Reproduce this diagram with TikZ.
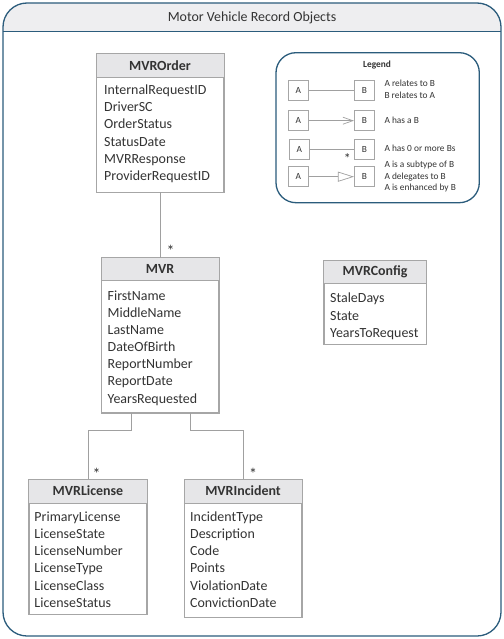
\documentclass[tikz,border=0pt]{standalone}
\usepackage{fontspec}
\setmainfont{Carlito}
\usetikzlibrary{arrows.meta,calc}
\definecolor{boxgray}{HTML}{A6A6A6}
\definecolor{hdrgray}{HTML}{E6E6E8}
\definecolor{txt}{HTML}{333333}
\definecolor{framec}{HTML}{2B5C7C}
\definecolor{framehdr}{HTML}{EEEEF0}
\definecolor{linegray}{HTML}{A0A0A0}
\tikzset{
  cls/.style={draw=boxgray, line width=0.8bp, inner sep=0pt, fill=white},
  attr/.style={anchor=base west, inner sep=0pt, font=\fontsize{14}{17}\selectfont, text=txt},
  ttl/.style={inner sep=0pt, font=\fontsize{14}{17}\selectfont\bfseries, text=txt},
  conn/.style={draw=linegray, line width=0.8bp},
  starmark/.style={anchor=base, inner sep=0pt, font=\fontsize{16}{18}\selectfont, text=txt},
  lbox/.style={draw=boxgray, line width=0.7bp, minimum width=20bp, minimum height=20bp, inner sep=0pt, font=\fontsize{9.4}{11}\selectfont, text=txt},
  ltxt/.style={anchor=base west, inner sep=0pt, font=\fontsize{9.4}{11}\selectfont, text=txt},
  frame/.style={draw=framec, line width=1.3bp},
}
\begin{document}
\begin{tikzpicture}[x=1bp,y=-1bp]
\useasboundingbox (0,0) rectangle (504,639);
% outer frame
\fill[white, rounded corners=24bp] (3,3) rectangle (501,636);
\fill[framehdr] (3,31.5) {[rounded corners=24bp] -- (3,3) -- (501,3)} -- (501,31.5) -- cycle;
\draw[frame] (3,31.5) -- (501,31.5);
\draw[frame, rounded corners=24bp] (3,3) rectangle (501,636);
\node[inner sep=0pt, font=\fontsize{14}{17}\selectfont, text=txt] (title) at (252,17.5) {Motor Vehicle Record Objects};

% ---- classes ----
% MVROrder
\node[cls, minimum width=127bp, minimum height=138bp] (order) at (160,123) {};
\fill[hdrgray] (order.north west) rectangle ([yshift=-23.7bp]order.north east);
\draw[boxgray, line width=0.8bp] ([yshift=-23.7bp]order.north west) -- ([yshift=-23.7bp]order.north east);
\draw[boxgray, line width=0.8bp] (order.north west) rectangle (order.south east);
\node[ttl] at ([yshift=-11.85bp]order.north) {MVROrder};
\foreach \t [count=\i from 0] in {InternalRequestID,DriverSC,OrderStatus,StatusDate,MVRResponse,ProviderRequestID}
  \node[attr] at (104,94.5+17.2*\i) {\t};

% MVR
\node[cls, minimum width=117bp, minimum height=154.7bp] (mvr) at (160,335.35) {};
\fill[hdrgray] (mvr.north west) rectangle ([yshift=-23bp]mvr.north east);
\draw[boxgray, line width=0.8bp] ([yshift=-23bp]mvr.north west) -- ([yshift=-23bp]mvr.north east);
\draw[boxgray, line width=0.8bp] (mvr.north west) rectangle (mvr.south east);
\node[ttl] at ([yshift=-11.5bp]mvr.north) {MVR};
\foreach \t [count=\i from 0] in {FirstName,MiddleName,LastName,DateOfBirth,ReportNumber,ReportDate,YearsRequested}
  \node[attr] at (107.5,300.2+17.15*\i) {\t};

% MVRConfig
\node[cls, minimum width=102bp, minimum height=83.3bp] (config) at (375,302.65) {};
\fill[hdrgray] (config.north west) rectangle ([yshift=-22.3bp]config.north east);
\draw[boxgray, line width=0.8bp] ([yshift=-22.3bp]config.north west) -- ([yshift=-22.3bp]config.north east);
\draw[boxgray, line width=0.8bp] (config.north west) rectangle (config.south east);
\node[ttl] at ([yshift=-11.15bp]config.north) {MVRConfig};
\foreach \t [count=\i from 0] in {StaleDays,State,YearsToRequest}
  \node[attr] at (330,302.8+17.5*\i) {\t};

% MVRLicense
\node[cls, minimum width=117.4bp, minimum height=134.7bp] (license) at (88,546.65) {};
\fill[hdrgray] (license.north west) rectangle ([yshift=-24bp]license.north east);
\draw[boxgray, line width=0.8bp] ([yshift=-24bp]license.north west) -- ([yshift=-24bp]license.north east);
\draw[boxgray, line width=0.8bp] (license.north west) rectangle (license.south east);
\node[ttl] at ([yshift=-12bp]license.north) {MVRLicense};
\foreach \t [count=\i from 0] in {PrimaryLicense,LicenseState,LicenseNumber,LicenseType,LicenseClass,LicenseStatus}
  \node[attr] at (34.3,521.2+17.2*\i) {\t};

% MVRIncident
\node[cls, minimum width=117.4bp, minimum height=138bp] (incident) at (243,548.3) {};
\fill[hdrgray] (incident.north west) rectangle ([yshift=-24bp]incident.north east);
\draw[boxgray, line width=0.8bp] ([yshift=-24bp]incident.north west) -- ([yshift=-24bp]incident.north east);
\draw[boxgray, line width=0.8bp] (incident.north west) rectangle (incident.south east);
\node[ttl] at ([yshift=-12bp]incident.north) {MVRIncident};
\foreach \t [count=\i from 0] in {IncidentType,Description,Code,Points,ViolationDate,ConvictionDate}
  \node[attr] at (190,521.2+17.2*\i) {\t};

% ---- connectors ----
\draw[conn] (order.south) -- (mvr.north);
\node[starmark] (s1) at (170.7,256.3) {*};
\coordinate (j1) at (131.7,430.7);
\coordinate (j2) at (190.3,430.7);
\draw[conn] (mvr.south -| j1) -- (j1) -| (license.north);
\draw[conn] (mvr.south -| j2) -- (j2) -| (incident.north);
\node[starmark] (s2) at (96.7,479.7) {*};
\node[starmark] (s3) at (253,479.9) {*};

% ---- legend ----
\draw[frame, rounded corners=20bp] (276,52.7) rectangle (479.3,202.7);
\node[inner sep=0pt, font=\fontsize{9.4}{11}\selectfont\bfseries, text=txt] (lgd) at (377,65) {Legend};
\node[lbox] (a1) at (298.3,90) {A};
\node[lbox] (b1) at (364.3,90) {B};
\node[lbox] (a2) at (298.3,120.7) {A};
\node[lbox] (b2) at (364.3,120.7) {B};
\node[lbox] (a3) at (299.3,149.3) {A};
\node[lbox] (b3) at (364.3,149.3) {B};
\node[lbox] (a4) at (298.3,176.7) {A};
\node[lbox] (b4) at (364.3,176.7) {B};
\draw[conn, line width=0.7bp] (a1) -- (b1);
\draw[conn, line width=0.7bp, -{Straight Barb[length=10bp, width=7bp]}] (a2) -- (b2);
\draw[conn, line width=0.7bp] (a3) -- (b3);
\node[anchor=base, inner sep=0pt, font=\fontsize{14}{16}\selectfont, text=txt] (s4) at (347.3,164) {*};
\draw[conn, line width=0.7bp, -{Triangle[open, length=16bp, width=10bp, fill=white]}] (a4) -- (b4);
\node[ltxt] at (384.3,86.3) {A relates to B};
\node[ltxt] at (384.3,98.7) {B relates to A};
\node[ltxt] at (384.3,124) {A has a B};
\node[ltxt] at (384.3,152) {A has 0 or more Bs};
\node[ltxt] at (384.3,167.3) {A is a subtype of B};
\node[ltxt] at (384.3,179.7) {A delegates to B};
\node[ltxt] at (384.3,190.7) {A is enhanced by B};
\end{tikzpicture}
\end{document}
